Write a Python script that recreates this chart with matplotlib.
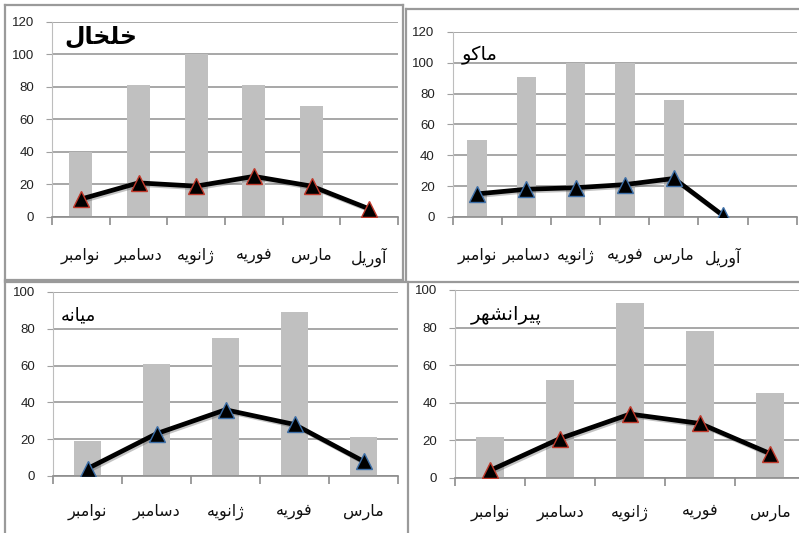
import matplotlib
matplotlib.use("Agg")
import matplotlib.pyplot as plt
import matplotlib.patheffects as pe
from matplotlib.ticker import FixedLocator, MultipleLocator

# ---- data -------------------------------------------------------------
months = ["نوامبر", "دسامبر", "ژانویه", "فوریه", "مارس", "آوریل"]

khalkhal_bars = [40, 81, 100, 81, 68, 0]
khalkhal_line = [11, 21, 19, 25, 19, 5]

maku_bars = [50, 91, 100, 100, 76, 0]
maku_line = [15, 18, 19, 21, 25, 1]

mianeh_bars = [19, 61, 75, 89, 21]
mianeh_line = [4, 23, 36, 28, 8]

piranshahr_bars = [22, 52, 93, 78, 45]
piranshahr_line = [4, 21, 34, 29, 13]

titles = ["خلخال", "ماکو", "میانه", "پیرانشهر"]

# ---- minimal Arabic-script shaping (presentation forms, visual order) --
FORMS = {
    "ا": ("\uFE8D", "\uFE8E", None, None),
    "آ": ("\uFE81", "\uFE82", None, None),
    "ب": ("\uFE8F", "\uFE90", "\uFE91", "\uFE92"),
    "پ": ("\uFB56", "\uFB57", "\uFB58", "\uFB59"),
    "خ": ("\uFEA5", "\uFEA6", "\uFEA7", "\uFEA8"),
    "د": ("\uFEA9", "\uFEAA", None, None),
    "ر": ("\uFEAD", "\uFEAE", None, None),
    "ژ": ("\uFB8A", "\uFB8B", None, None),
    "س": ("\uFEB1", "\uFEB2", "\uFEB3", "\uFEB4"),
    "ش": ("\uFEB5", "\uFEB6", "\uFEB7", "\uFEB8"),
    "ف": ("\uFED1", "\uFED2", "\uFED3", "\uFED4"),
    "ک": ("\uFB8E", "\uFB8F", "\uFB90", "\uFB91"),
    "ل": ("\uFEDD", "\uFEDE", "\uFEDF", "\uFEE0"),
    "م": ("\uFEE1", "\uFEE2", "\uFEE3", "\uFEE4"),
    "ن": ("\uFEE5", "\uFEE6", "\uFEE7", "\uFEE8"),
    "ه": ("\uFEE9", "\uFEEA", "\uFEEB", "\uFEEC"),
    "و": ("\uFEED", "\uFEEE", None, None),
    "ی": ("\uFBFC", "\uFBFD", "\uFBFE", "\uFBFF"),
}


def shape(word):
    glyphs = []
    for i, ch in enumerate(word):
        iso, fin, ini, med = FORMS[ch]
        joins_prev = i > 0 and FORMS[word[i - 1]][2] is not None
        joins_next = i < len(word) - 1 and ini is not None
        if joins_prev and joins_next:
            g = med
        elif joins_prev:
            g = fin
        elif joins_next:
            g = ini
        else:
            g = iso
        glyphs.append(g)
    return "".join(reversed(glyphs))


# ---- figure -----------------------------------------------------------
W, H = 799, 533
fig = plt.figure(figsize=(W / 100, H / 100), dpi=100)
fig.patch.set_facecolor("white")

ARFONT = ["DejaVu Sans"]
NUMFONT = "Liberation Sans"
GRID = "#a0a0a0"
BAR = "#c0c0c0"


def px_axes(left, right, top, bottom):
    return fig.add_axes([left / W, 1 - bottom / H, (right - left) / W, (bottom - top) / H])


# panel frames
frame_kw = dict(color="#9a9a9a", lw=1.6, transform=fig.transFigure, clip_on=False)
def fline(x0, y0, x1, y1):
    fig.add_artist(plt.Line2D([x0 / W, x1 / W], [1 - y0 / H, 1 - y1 / H], **frame_kw))

fline(5, 5, 403, 5); fline(5, 5, 5, 280); fline(403, 5, 403, 280); fline(5, 280, 403, 280)
fline(406, 9, 799, 9); fline(406, 9, 406, 280)
fline(5, 282, 799, 282); fline(5, 282, 5, 533); fline(408, 282, 408, 533)


def panel(ax, bars, line, nslots, ymax, labels, edge, title, title_xy, title_size, title_weight, label_pad):
    n = len(bars)
    xs = list(range(n))
    ax.set_xlim(-0.5, nslots - 0.5)
    ax.set_ylim(0, ymax)
    ax.yaxis.set_major_locator(MultipleLocator(20))
    ax.set_axisbelow(True)
    ax.grid(axis="y", color=GRID, lw=1.3)
    ax.bar(xs, bars, width=0.4, color=BAR, zorder=2)
    ax.plot(xs, line, color="black", lw=3.4, zorder=3, solid_capstyle="round",
            path_effects=[pe.SimpleLineShadow(offset=(1.2, -1.2), shadow_color="#555555", alpha=0.35),
                          pe.Normal()])
    ax.plot(xs, line, ls="none", marker="^", ms=11, mfc="black", mec=edge, mew=1.0, zorder=4)
    for s in ["top", "right"]:
        ax.spines[s].set_visible(False)
    ax.spines["left"].set_color("#bdbdbd")
    ax.spines["bottom"].set_color("#8c8c8c")
    ax.spines["bottom"].set_linewidth(1.2)
    ax.tick_params(axis="y", length=4, color=GRID, labelsize=9.5, pad=9, labelcolor="#222222")
    for t in ax.get_yticklabels():
        t.set_fontfamily(NUMFONT)
    ax.xaxis.set_major_locator(FixedLocator(xs))
    ax.set_xticklabels([shape(m) for m in labels], fontfamily=ARFONT, fontsize=11.5, color="#111111")
    ax.xaxis.set_minor_locator(FixedLocator([k - 0.5 for k in range(nslots + 1)]))
    ax.tick_params(axis="x", which="major", length=0, pad=label_pad)
    ax.tick_params(axis="x", which="minor", length=6, color="#8c8c8c", width=1.2)
    fig.text(title_xy[0] / W, 1 - title_xy[1] / H, shape(title), fontfamily=ARFONT,
             fontsize=title_size, fontweight=title_weight, ha="left", va="center", color="black")


ax1 = px_axes(52, 398, 22, 217)
panel(ax1, khalkhal_bars, khalkhal_line, 6, 120, months, "#c0392b", titles[0], (64, 37), 17, "semibold", 22)

ax2 = px_axes(452.7, 796.7, 32, 217)
panel(ax2, maku_bars, maku_line, 7, 120, months, "#3d6fa8", titles[1], (462, 55), 14, "normal", 22)

ax3 = px_axes(53, 398, 292, 476)
panel(ax3, mianeh_bars, mianeh_line, 5, 100, months[:5], "#3d6fa8", titles[2], (61, 315), 13, "normal", 20)

ax4 = px_axes(455, 805, 290, 478)
panel(ax4, piranshahr_bars, piranshahr_line, 5, 100, months[:5], "#c0392b", titles[3], (471, 315), 14, "normal", 19)

fig.savefig("out.png", dpi=100, facecolor="white")
